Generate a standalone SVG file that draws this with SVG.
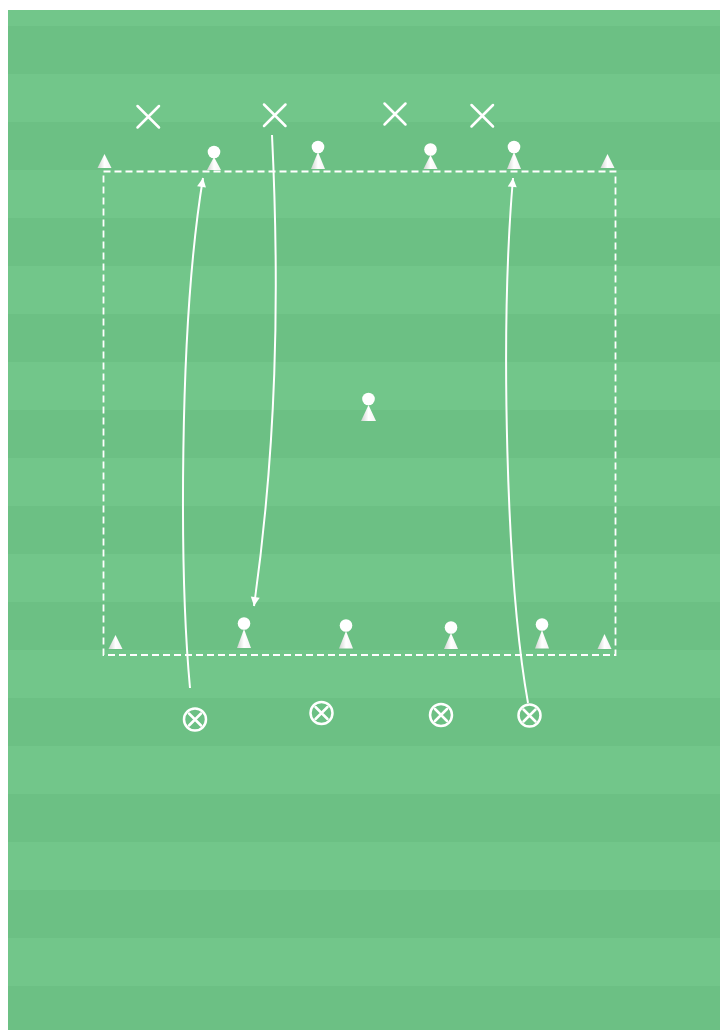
<svg xmlns="http://www.w3.org/2000/svg" width="720" height="1030" viewBox="0 0 720 1030">
<defs>
<style>
.stripe{fill:#6cc084}
.cross{stroke:#fff;stroke-width:2.5;fill:none;stroke-linecap:round}
.ball{stroke:#fff;stroke-width:2.5;fill:none}
.head{fill:#fff}
.cone{fill:url(#coneGrad)}
.run{stroke:#fff;stroke-width:2;fill:none}
.area{stroke:#fff;stroke-width:1.8;fill:none;stroke-dasharray:7 4}
</style>
<linearGradient id="coneGrad" x1="0" y1="0" x2="1" y2="0">
<stop offset="0" stop-color="#cfd3d0"/>
<stop offset="0.5" stop-color="#ffffff"/>
<stop offset="1" stop-color="#f4f4f4"/>
</linearGradient>
<marker id="arr" markerUnits="userSpaceOnUse" markerWidth="12" markerHeight="12" viewBox="0 0 12 12" refX="10" refY="6" orient="auto">
<path d="M1,1.5 L10,6 L1,10.5 Z" fill="#fff"/>
</marker>
</defs>
<rect x="0" y="0" width="720" height="1030" fill="#ffffff"/>
<rect x="8" y="10" width="712" height="1020" fill="#72c68a"/>
<g id="stripes">
<rect class="stripe" x="8" y="26" width="712" height="48"/>
<rect class="stripe" x="8" y="122" width="712" height="48"/>
<rect class="stripe" x="8" y="218" width="712" height="48"/>
<rect class="stripe" x="8" y="314" width="712" height="48"/>
<rect class="stripe" x="8" y="410" width="712" height="48"/>
<rect class="stripe" x="8" y="506" width="712" height="48"/>
<rect class="stripe" x="8" y="602" width="712" height="48"/>
<rect class="stripe" x="8" y="698" width="712" height="48"/>
<rect class="stripe" x="8" y="794" width="712" height="48"/>
<rect class="stripe" x="8" y="890" width="712" height="48"/>
<rect class="stripe" x="8" y="986" width="712" height="44"/>
</g>
<rect id="area" class="area" x="103.5" y="171.5" width="512" height="483.5"/>
<g id="connectors">
<path class="run" d="M190,688 C180,580 178,330 203,178" marker-end="url(#arr)"/>
<path class="run" d="M272,135 C280,300 276,450 254,606" marker-end="url(#arr)"/>
<path class="run" d="M528,703 C506,580 500,330 513,178" marker-end="url(#arr)"/>
</g>
<g id="defender1"><path class="cross" d="M137.5,106 L159,127.5 M159,106 L137.5,127.5"/></g>
<g id="defender2"><path class="cross" d="M264,104.5 L285.5,126 M285.5,104.5 L264,126"/></g>
<g id="defender3"><path class="cross" d="M384.5,103.5 L405.5,124.5 M405.5,103.5 L384.5,124.5"/></g>
<g id="defender4"><path class="cross" d="M471.5,105 L493,126.5 M493,105 L471.5,126.5"/></g>
<g id="cone-tl"><path class="cone" d="M104.5,154 L111.5,168 L97.5,168 Z"/></g>
<g id="cone-tr"><path class="cone" d="M607.5,154 L614.5,168 L600.5,168 Z"/></g>
<g id="cone-bl"><path class="cone" d="M115.5,635 L122.5,649 L108.5,649 Z"/></g>
<g id="cone-br"><path class="cone" d="M604.5,634 L611.5,649 L597.5,649 Z"/></g>
<g id="player-t1"><circle class="head" cx="214" cy="152" r="6.3"/><path class="cone" d="M214,157 L221,170 L207,170 Z"/></g>
<g id="player-t2"><circle class="head" cx="318" cy="147" r="6.3"/><path class="cone" d="M318,152 L325,169 L311,169 Z"/></g>
<g id="player-t3"><circle class="head" cx="430.5" cy="149.5" r="6.3"/><path class="cone" d="M430.5,155 L437.5,169 L423.5,169 Z"/></g>
<g id="player-t4"><circle class="head" cx="514" cy="147" r="6.3"/><path class="cone" d="M514,152 L521,169 L507,169 Z"/></g>
<g id="player-c"><circle class="head" cx="368.5" cy="399" r="6.3"/><path class="cone" d="M368.5,405 L376,421 L361,421 Z"/></g>
<g id="player-b1"><circle class="head" cx="244" cy="623.5" r="6.3"/><path class="cone" d="M244,629 L251,648 L237,648 Z"/></g>
<g id="player-b2"><circle class="head" cx="346" cy="625.5" r="6.3"/><path class="cone" d="M346,631 L353,648.5 L339,648.5 Z"/></g>
<g id="player-b3"><circle class="head" cx="451" cy="627.5" r="6.3"/><path class="cone" d="M451,633 L458,649 L444,649 Z"/></g>
<g id="player-b4"><circle class="head" cx="542" cy="624.5" r="6.3"/><path class="cone" d="M542,630 L549,648.5 L535,648.5 Z"/></g>
<g id="ball1"><circle class="ball" cx="195" cy="719.5" r="11"/><path class="cross" d="M189,713.5 L201,725.5 M201,713.5 L189,725.5"/></g>
<g id="ball2"><circle class="ball" cx="321.5" cy="713" r="11"/><path class="cross" d="M315.5,707 L327.5,719 M327.5,707 L315.5,719"/></g>
<g id="ball3"><circle class="ball" cx="441" cy="715" r="11"/><path class="cross" d="M435,709 L447,721 M447,709 L435,721"/></g>
<g id="ball4"><circle class="ball" cx="529.5" cy="715.5" r="11"/><path class="cross" d="M523.5,709.5 L535.5,721.5 M535.5,709.5 L523.5,721.5"/></g>
</svg>
